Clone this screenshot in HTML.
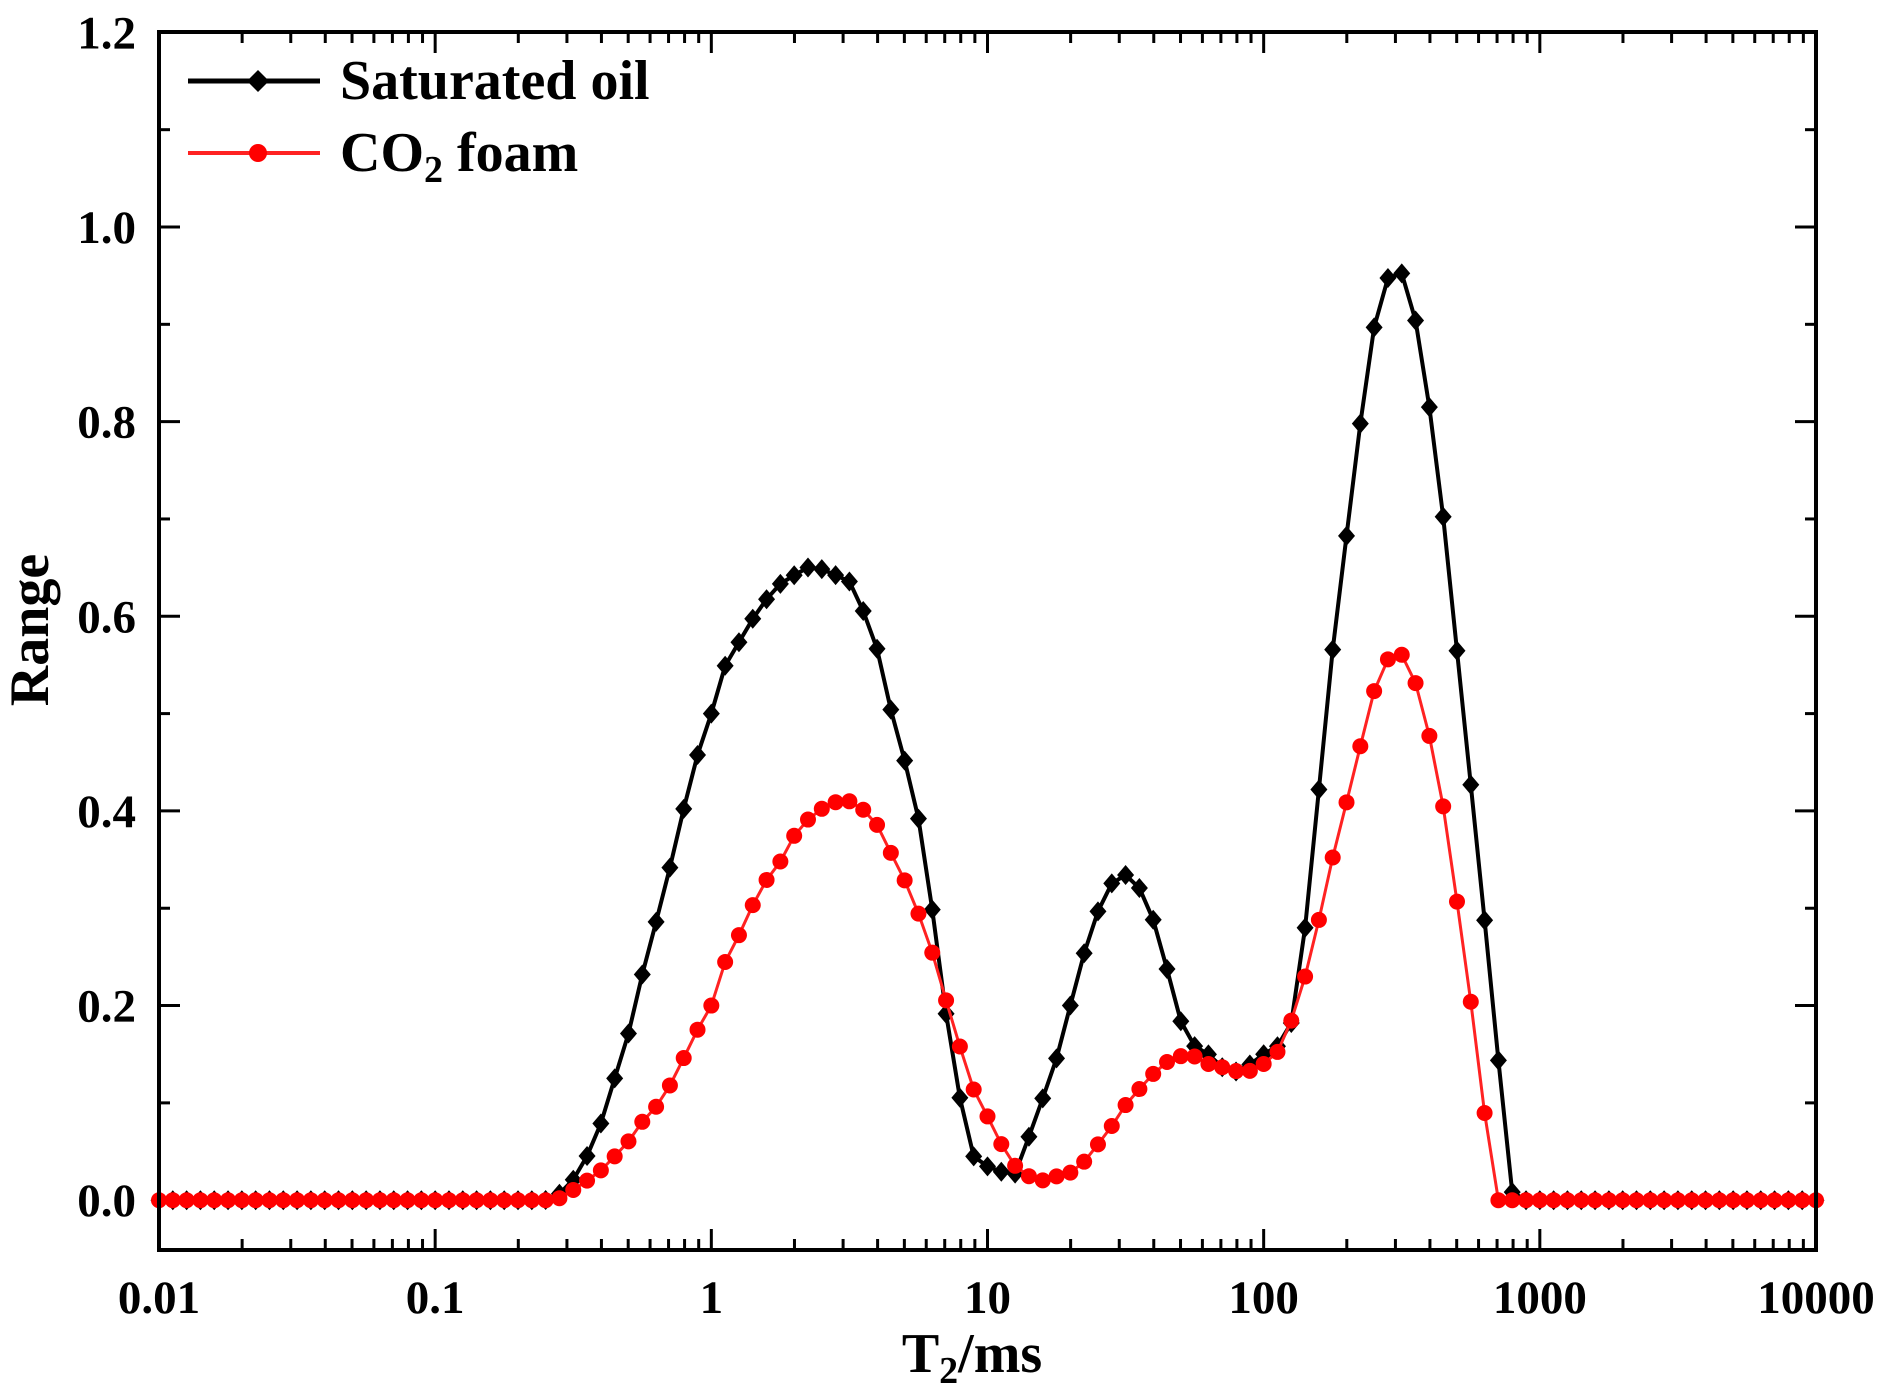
<!DOCTYPE html>
<html><head><meta charset="utf-8"><style>
html,body{margin:0;padding:0;background:#fff;}
svg{display:block;font-family:"Liberation Serif",serif;font-weight:bold;}
</style></head><body>
<svg id="s" width="1880" height="1397" viewBox="0 0 1880 1397" xmlns="http://www.w3.org/2000/svg">
<rect width="1880" height="1397" fill="#fff"/>
<g id="ticks" stroke="#000" stroke-width="3"></g>
<g id="lab" font-size="47" fill="#000"></g>
<g id="data"></g>
<rect x="159" y="32" width="1657" height="1218" fill="none" stroke="#000" stroke-width="4"/>
<line x1="188" y1="81" x2="320" y2="81" stroke="#000" stroke-width="5"/>
<path d="M258 70 L269 81 L258 92 L247 81 Z" fill="#000"/>
<text x="340" y="99" font-size="56">Saturated oil</text>
<line x1="188" y1="153" x2="320" y2="153" stroke="#f22" stroke-width="4"/>
<circle cx="258" cy="153" r="9" fill="#f00"/>
<text x="340" y="171" font-size="56">CO<tspan font-size="38" dy="11">2</tspan><tspan dy="-11"> foam</tspan></text>
<text x="972" y="1372" font-size="56" text-anchor="middle">T<tspan font-size="38" dy="11">2</tspan><tspan dy="-11">/ms</tspan></text>
<text transform="translate(48,630) rotate(-90)" font-size="56" text-anchor="middle">Range</text>
</svg>
<script>
const L=159,R=1816,D=(R-L)/6;
const X=t=>L+(Math.log10(t)+2)*D;
const Y=v=>1200.2-v*973.2;
const NS="http://www.w3.org/2000/svg";
function el(p,n,a){const e=document.createElementNS(NS,n);for(const k in a)e.setAttribute(k,a[k]);p.appendChild(e);return e;}
const tk=document.getElementById('ticks'),lab=document.getElementById('lab');
for(let d=-2;d<=4;d++){
  const x=X(Math.pow(10,d));
  el(tk,'line',{x1:x,y1:1250,x2:x,y2:1229});
  el(tk,'line',{x1:x,y1:32,x2:x,y2:53});
  const t=el(lab,'text',{x:x,y:1313,'text-anchor':'middle'});t.textContent=['0.01','0.1','1','10','100','1000','10000'][d+2];
  if(d<4)for(let m=2;m<10;m++){const xm=X(m*Math.pow(10,d));el(tk,'line',{x1:xm,y1:1250,x2:xm,y2:1239});el(tk,'line',{x1:xm,y1:32,x2:xm,y2:43});}
}
for(let i=0;i<=6;i++){const v=i*0.2,y=Y(v);
  el(tk,'line',{x1:159,y1:y,x2:180,y2:y});el(tk,'line',{x1:1816,y1:y,x2:1795,y2:y});
  if(i<6){const ym=Y(v+0.1);el(tk,'line',{x1:159,y1:ym,x2:170,y2:ym});el(tk,'line',{x1:1816,y1:ym,x2:1805,y2:ym});}
  const t=el(lab,'text',{x:136,y:y+16,'text-anchor':'end'});t.textContent=v.toFixed(1);
}
const blk=[[0.25,0],[0.3,0.01],[0.33,0.03],[0.38,0.06],[0.43,0.11],[0.5,0.17],[0.56,0.23],[0.65,0.3],[0.75,0.37],[0.85,0.44],[1,0.5],[1.1,0.545],[1.3,0.58],[1.5,0.61],[1.8,0.635],[2.3,0.652],[2.6,0.647],[3.2,0.635],[3.5,0.61],[4,0.565],[4.5,0.5],[5.5,0.41],[6.3,0.3],[7,0.2],[8,0.1],[9,0.04],[11,0.03],[12.5,0.025],[15,0.085],[18,0.15],[21,0.225],[24,0.285],[28,0.325],[32,0.335],[37,0.315],[43,0.26],[48,0.195],[55,0.16],[63,0.15],[75,0.13],[85,0.135],[100,0.15],[115,0.16],[130,0.19],[150,0.345],[170,0.52],[200,0.685],[230,0.825],[260,0.925],[300,0.965],[340,0.935],[390,0.835],[450,0.695],[520,0.52],[610,0.33],[710,0.14],[800,0]];
const red=[[0.27,0],[0.3,0.005],[0.33,0.015],[0.38,0.025],[0.43,0.04],[0.5,0.06],[0.56,0.08],[0.65,0.1],[0.75,0.13],[0.85,0.165],[1,0.2],[1.1,0.24],[1.3,0.28],[1.5,0.32],[1.8,0.35],[2,0.375],[2.3,0.395],[2.6,0.405],[3,0.412],[3.4,0.407],[4,0.385],[4.5,0.355],[5.3,0.315],[6.3,0.255],[7,0.21],[8,0.155],[9,0.11],[10.5,0.075],[12,0.04],[14,0.025],[16,0.02],[18,0.025],[21,0.03],[24,0.05],[28,0.075],[32,0.1],[37,0.12],[43,0.14],[50,0.148],[56,0.148],[63,0.14],[75,0.135],[85,0.13],[100,0.14],[115,0.155],[130,0.195],[150,0.255],[170,0.33],[200,0.41],[230,0.48],[260,0.54],[300,0.568],[340,0.55],[390,0.49],[450,0.4],[520,0.275],[610,0.13],[680,0]];
function interp(tab,t){if(t<=tab[0][0]||t>=tab[tab.length-1][0])return 0;
  for(let i=1;i<tab.length;i++)if(t<=tab[i][0]){const a=tab[i-1],b=tab[i];const f=(Math.log(t)-Math.log(a[0]))/(Math.log(b[0])-Math.log(a[0]));return a[1]+f*(b[1]-a[1]);}return 0;}
const dg=document.getElementById('data');
function series(tab,col,lw,marker){
  const pts=[];for(let i=0;i<=120;i++){const t=Math.pow(10,-2+i/20);pts.push([X(t),Y(interp(tab,t))]);}
  el(dg,'polyline',{points:pts.map(p=>p.join(',')).join(' '),fill:'none',stroke:col,'stroke-width':lw});
  for(const p of pts){ if(marker==='d')el(dg,'path',{d:`M${p[0]} ${p[1]-10}L${p[0]+8.5} ${p[1]}L${p[0]} ${p[1]+10}L${p[0]-8.5} ${p[1]}Z`,fill:'#000'});
    else el(dg,'circle',{cx:p[0],cy:p[1],r:8,fill:'#f00'});}
}
series(blk,'#000',4,'d');series(red,'#f22',3,'c');
</script>
</body></html>
